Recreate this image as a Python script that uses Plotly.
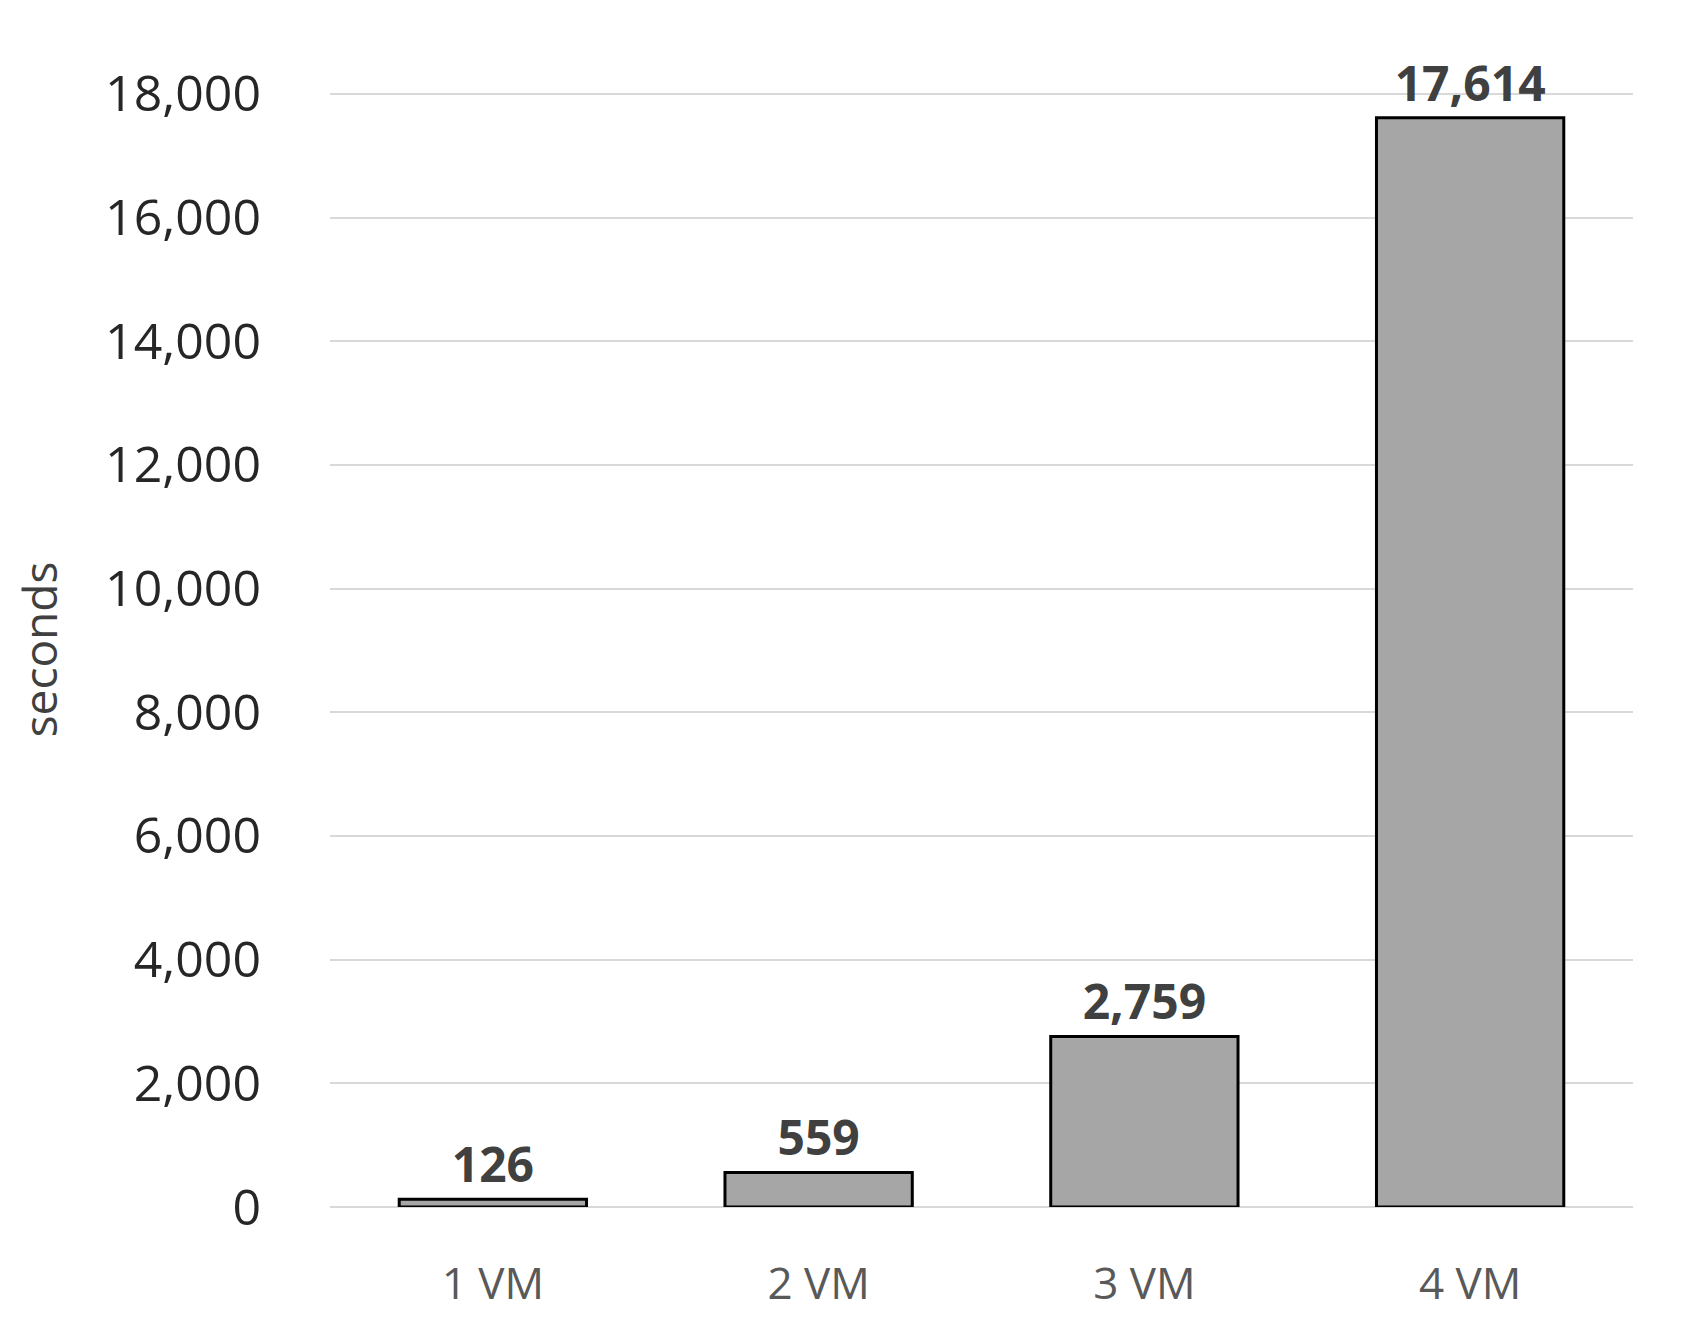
import plotly.graph_objects as go

categories = ["1 VM", "2 VM", "3 VM", "4 VM"]
seconds = [126, 559, 2759, 17614]
y_ticks = list(range(0, 18001, 2000))

fig = go.Figure(
    data=[
        go.Bar(
            x=categories,
            y=seconds,
            marker=dict(color="#a6a6a6", line=dict(color="black", width=3)),
            text=[f"{v:,}" for v in seconds],
            textposition="outside",
            textfont=dict(size=48, color="#404040", family="Open Sans"),
            texttemplate="<b>%{text}</b>",
            cliponaxis=False,
            width=0.575,
        )
    ]
)
fig.update_layout(
    width=1695,
    height=1339,
    margin=dict(l=322, r=70, t=84, b=140),
    plot_bgcolor="white",
    paper_bgcolor="white",
    font=dict(family="Open Sans", color="#262626"),
    showlegend=False,
    xaxis=dict(
        tickfont=dict(size=44, color="#595959"),
        showline=False,
        ticks="outside",
        ticklen=38,
        tickcolor="white",
    ),
    yaxis=dict(
        range=[0, 18030],
        tickvals=y_ticks,
        tickformat=",",
        tickfont=dict(size=50, color="#262626"),
        gridcolor="#d9d9d9",
        gridwidth=2,
        zeroline=True,
        zerolinecolor="#d9d9d9",
        zerolinewidth=2,
        ticks="outside",
        ticklen=58,
        tickcolor="white",
        title=dict(text="seconds", font=dict(size=46, color="#404040"), standoff=40),
    ),
)
fig.write_html("out.html")
